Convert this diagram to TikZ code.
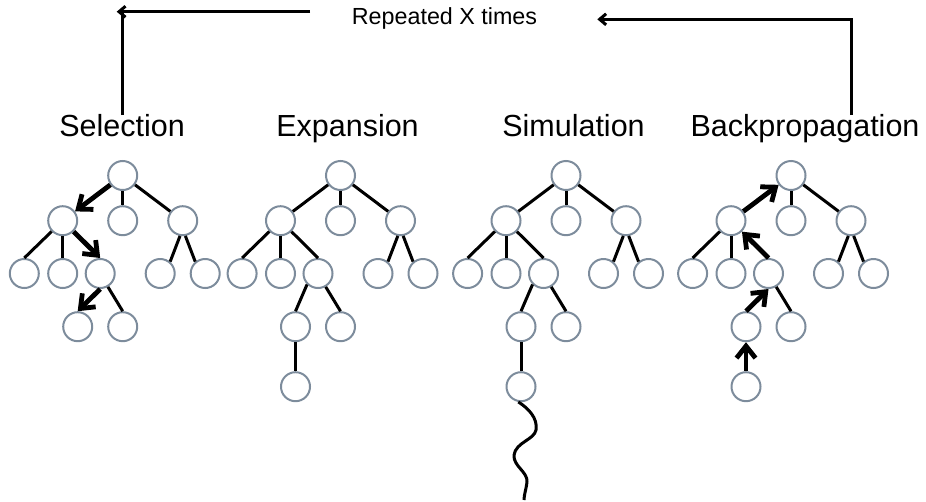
\documentclass[tikz,border=0pt]{standalone}
\usepackage{fontspec}
\setmainfont{Liberation Sans}
\usetikzlibrary{arrows.meta}
\definecolor{nodegray}{RGB}{125,140,156}
\tikzset{
  tn/.style={circle,draw=nodegray,line width=2pt,minimum size=29pt,inner sep=0pt,fill=white},
  edge/.style={line width=3pt,black},
  bigarrow/.style={line width=4.8pt,black,-{Straight Barb[length=12pt,width=19pt]}},
  looparrow/.style={line width=3pt,black,-{Straight Barb[length=6.5pt,width=11pt]}},
  titletext/.style={anchor=base,font=\fontsize{30.5}{36}\selectfont},
  reptext/.style={anchor=base,font=\fontsize{23.3}{28}\selectfont},
}
\newcommand\mctsnodes[3]{%
  \node[tn] (#1R) at (#2,175.5) {};
  \node[tn] (#1A) at ({#2-60},220.7) {};
  \node[tn] (#1B) at (#2,220.7) {};
  \node[tn] (#1C) at ({#2+60},220.7) {};
  \node[tn] (#1c1) at ({#2-98.4},273.5) {};
  \node[tn] (#1c2) at ({#2-60},273.5) {};
  \node[tn] (#1c3) at ({#2-22.5},273.5) {};
  \node[tn] (#1c4) at ({#2+37.5},273.5) {};
  \node[tn] (#1c5) at ({#2+82.5},273.5) {};
  \node[tn] (#1d1) at ({#2-45},326.7) {};
  \node[tn] (#1d2) at (#2,326.7) {};
  #3
}
\begin{document}
\begin{tikzpicture}[x=1pt,y=-1pt]
\useasboundingbox (0,0) rectangle (926,501);

% loop arrows
\coordinate (L1) at (122.7,115);
\coordinate (L2) at (122.7,11.7);
\coordinate (L3) at (310,11.7);
\coordinate (L4) at (116.7,11.7);
\coordinate (R1) at (851.7,115);
\coordinate (R2) at (597.3,19.3);
\draw[line width=3.2pt] (L1) -- (L2);
\draw[looparrow] (L3) -- (L4);
\draw[looparrow,line join=miter] (R1) |- (R2);
\node[reptext] (rep) at (444.5,24) {Repeated X times};

% titles
\node[titletext] (tS) at (122,136) {Selection};
\node[titletext] (tE) at (347.5,136) {Expansion};
\node[titletext] (tM) at (573.5,136) {Simulation};
\node[titletext] (tB) at (805,136) {Backpropagation};

% Selection
\mctsnodes{S}{122.7}{}
\draw[edge] (SR) -- (SB);
\draw[edge] (SR) -- (SC);
\draw[edge] (SA) -- (Sc1.north);
\draw[edge] (SA) -- (Sc2);
\draw[edge] (SC.-100) -- (Sc4.50);
\draw[edge] (SC.-80) -- (Sc5.130);
\draw[edge] (Sc3.-60) -- (Sd2.north);
\draw[bigarrow] (SR) -- (SA);
\draw[bigarrow] (SA) -- (Sc3.north);
\draw[bigarrow] (Sc3.south) -- (Sd1.north);

% Expansion
\mctsnodes{E}{340.5}{\node[tn] (Ee1) at ({340.5-45},386.7) {};}
\draw[edge] (ER) -- (EA);
\draw[edge] (ER) -- (EB);
\draw[edge] (ER) -- (EC);
\draw[edge] (EA) -- (Ec1.north);
\draw[edge] (EA) -- (Ec2);
\draw[edge] (EA) -- (Ec3.north);
\draw[edge] (EC.-100) -- (Ec4.50);
\draw[edge] (EC.-80) -- (Ec5.130);
\draw[edge] (Ec3.-135) -- (Ed1.north);
\draw[edge] (Ec3.-60) -- (Ed2.north);
\draw[edge] (Ed1) -- (Ee1);

% Simulation
\mctsnodes{M}{566}{\node[tn] (Me1) at ({566-45},386.7) {};}
\draw[edge] (MR) -- (MA);
\draw[edge] (MR) -- (MB);
\draw[edge] (MR) -- (MC);
\draw[edge] (MA) -- (Mc1.north);
\draw[edge] (MA) -- (Mc2);
\draw[edge] (MA) -- (Mc3.north);
\draw[edge] (MC.-100) -- (Mc4.50);
\draw[edge] (MC.-80) -- (Mc5.130);
\draw[edge] (Mc3.-135) -- (Md1.north);
\draw[edge] (Mc3.-60) -- (Md2.north);
\draw[edge] (Md1) -- (Me1);
\coordinate (wend) at (524,500);
\draw[edge,line join=round] (Me1.-100) .. controls (528,408) and (538,418) .. (536,430)
  .. controls (534,440) and (516,442) .. (514,455)
  .. controls (513,466) and (528,472) .. (527,482)
  .. controls (526,490) and (524,495) .. (wend);

% Backpropagation
\mctsnodes{B}{791}{\node[tn] (Be1) at ({791-45},386.7) {};}
\draw[edge] (BR) -- (BB);
\draw[edge] (BR) -- (BC);
\draw[edge] (BA) -- (Bc1.north);
\draw[edge] (BA) -- (Bc2);
\draw[edge] (BC.-100) -- (Bc4.50);
\draw[edge] (BC.-80) -- (Bc5.130);
\draw[edge] (Bc3.-60) -- (Bd2.north);
\draw[bigarrow] (Be1.north) -- (Bd1.south);
\draw[bigarrow] (Bd1.north) -- (Bc3.south);
\draw[bigarrow] (Bc3.north) -- (BA.-45);
\draw[bigarrow] (BA) -- (BR);
\end{tikzpicture}
\end{document}
